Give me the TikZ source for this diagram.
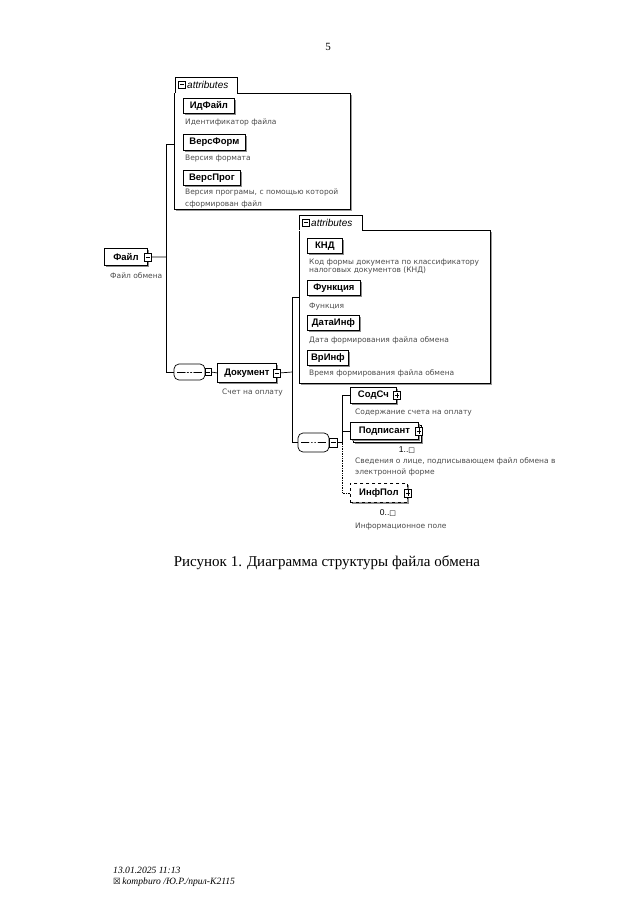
\documentclass[tikz,border=0pt]{standalone}
\usepackage{fontspec}
\setmainfont{Liberation Serif}
\setsansfont{Liberation Sans}
\newfontfamily\symfont{DejaVu Sans}
\newfontfamily\descfont{DejaVu Sans}
\usetikzlibrary{shapes.misc,shadows}
\definecolor{desccol}{gray}{0.3}
\begin{document}
\begin{tikzpicture}[x=1pt,y=-1pt,
  elem/.style={draw=black, line width=0.8pt, fill=white, anchor=north west, inner sep=0pt,
    font=\sffamily\bfseries\fontsize{9.5}{11}\selectfont,
    drop shadow={shadow xshift=1.8pt, shadow yshift=-1.8pt, fill=black!45, opacity=1}},
  box/.style={draw=black, line width=0.6pt, fill=white, anchor=north west, inner sep=0pt,
    drop shadow={shadow xshift=1.2pt, shadow yshift=-1.2pt, fill=black!40, opacity=1}},
  desc/.style={font=\descfont\fontsize{7.5}{8}\selectfont, text=desccol, anchor=west, inner sep=0pt,
    text height=5pt, text depth=1.5pt},
  minusbox/.style={draw=black, line width=0.6pt, fill=white, inner sep=0pt,
    minimum width=7pt, minimum height=8pt,
    path picture={\draw[line width=0.5pt] ([xshift=1.4pt]path picture bounding box.west) -- ([xshift=-1.4pt]path picture bounding box.east);}},
  plusbox/.style={minusbox,
    path picture={\draw[line width=0.5pt] ([xshift=1.4pt]path picture bounding box.west) -- ([xshift=-1.4pt]path picture bounding box.east)
      ([yshift=-1.4pt]path picture bounding box.north) -- ([yshift=1.4pt]path picture bounding box.south);}},
  seqshape/.style={rectangle, rounded corners=5pt, draw=black, line width=0.7pt, fill=white,
    inner sep=0pt, minimum width=31pt,
    path picture={\draw[line width=0.6pt] ([xshift=3pt]path picture bounding box.west) -- ([xshift=-3pt]path picture bounding box.east);
      \fill (path picture bounding box.center) circle (1.1pt) ++(-3.2pt,0) circle (1.1pt) ++(6.4pt,0) circle (1.1pt);}},
  tabtext/.style={font=\sffamily\itshape\fontsize{10}{11}\selectfont, anchor=west, inner sep=0pt},
  conn/.style={line width=0.7pt},
  mult/.style={font=\sffamily\fontsize{8.5}{9}\selectfont, inner sep=0pt}
]
\useasboundingbox (0,0) rectangle (640,906);
\fill[white] (0,0) rectangle (640,906);

% page number
\node[font=\fontsize{11}{12}\selectfont, inner sep=0pt] (pagenum) at (328,47) {5};

% ---------- attributes box 1 ----------
\node[box, minimum width=176pt, minimum height=116pt] (attr1) at (174,93) {};
\fill[white] (175.3,77.3) rectangle (236.7,93.5);
\draw[line width=0.6pt] (175,93) -- (175,77) -- (237,77) -- (237,93);
\node[minusbox, minimum width=6.5pt, minimum height=7pt] (attr1m) at (182,84.5) {};
\node[tabtext] (attr1t) at (187,85) {attributes};

\node[elem, minimum width=51pt, minimum height=15pt] (idfayl) at (183,98) {ИдФайл};
\node[desc] (idfayld) at (185,123) {Идентификатор файла};
\node[elem, minimum width=62pt, minimum height=16pt] (versform) at (183,134) {ВерсФорм};
\node[desc] (versformd) at (185,159) {Версия формата};
\node[elem, minimum width=57pt, minimum height=15pt] (versprog) at (183,170) {ВерсПрог};
\node[desc] (versprogd1) at (185,193) {Версия програмы, с помощью которой};
\node[desc] (versprogd2) at (185,205) {сформирован файл};

% ---------- root ----------
\node[elem, minimum width=43pt, minimum height=17pt] (fayl) at (104,248) {Файл\hspace{4pt}};
\node[minusbox] (faylm) at (fayl.east) {};
\node[desc] (fayld) at (110,277) {Файл обмена};

% ---------- sequence 1 + Документ ----------
\node[seqshape, minimum height=16pt] (seq1) at (189.5,372) {};
\node[minusbox, minimum width=6pt, minimum height=7pt] (seq1m) at (208,372) {};
\node[elem, minimum width=59pt, minimum height=19pt] (dokument) at (217,363) {Документ\hspace{4pt}};
\node[minusbox] (dokumentm) at (dokument.east) {};
\node[desc] (dokumentd) at (222,393) {Счет на оплату};

% ---------- attributes box 2 ----------
\node[box, minimum width=191pt, minimum height=153pt] (attr2) at (299,230) {};
\fill[white] (299.3,215.3) rectangle (361.7,230.5);
\draw[line width=0.6pt] (299,230) -- (299,215) -- (362,215) -- (362,230);
\node[minusbox, minimum width=6.5pt, minimum height=7pt] (attr2m) at (306,222.5) {};
\node[tabtext] (attr2t) at (311,223) {attributes};

\node[elem, minimum width=35pt, minimum height=15pt] (knd) at (307,238) {КНД};
\node[desc] (kndd1) at (309,263) {Код формы документа по классификатору};
\node[desc] (kndd2) at (309,271) {налоговых документов (КНД)};
\node[elem, minimum width=53pt, minimum height=15pt] (funk) at (307,280) {Функция};
\node[desc] (funkd) at (309,307) {Функция};
\node[elem, minimum width=52pt, minimum height=15pt] (datainf) at (307,315) {ДатаИнф};
\node[desc] (datainfd) at (309,341) {Дата формирования файла обмена};
\node[elem, minimum width=41pt, minimum height=15pt] (vrinf) at (307,350) {ВрИнф};
\node[desc] (vrinfd) at (309,374) {Время формирования файла обмена};

% ---------- sequence 2 + children ----------
\node[seqshape, minimum height=19pt] (seq2) at (313.5,442.5) {};
\node[minusbox, minimum width=8pt, minimum height=9pt] (seq2m) at (333.5,442.5) {};

\node[elem, minimum width=46pt, minimum height=16pt] (sodsch) at (350,387) {СодСч\hspace{5pt}};
\node[plusbox] (sodschm) at (sodsch.east) {};
\node[desc] (sodschd) at (355,413) {Содержание счета на оплату};

\node[elem, minimum width=68pt, minimum height=17pt] (podpback) at (353,425) {};
\node[elem, minimum width=68pt, minimum height=17pt] (podp) at (350,422) {Подписант\hspace{5pt}};
\node[plusbox] (podpm) at (podp.east) {};
\node[mult] (podpmult) at (407,450) {1..{\symfont\fontsize{7}{8}\selectfont □}};
\node[desc] (podpd1) at (355,462) {Сведения о лице, подписывающем файл обмена в};
\node[desc] (podpd2) at (355,473) {электронной форме};

\node[elem, dashed, minimum width=57pt, minimum height=19pt] (infpol) at (350,483) {ИнфПол\hspace{5pt}};
\node[plusbox] (infpolm) at (infpol.east) {};
\node[mult] (infpolmult) at (388,513) {0..{\symfont\fontsize{7}{8}\selectfont □}};
\node[desc] (infpold) at (355,527) {Информационное поле};

% ---------- connectors ----------
\coordinate (busA) at (166,257);
\coordinate (attr1in) at (174,144);
\coordinate (busB) at (292,372);
\coordinate (attr2in) at (299,297);
\coordinate (busC) at (342,442.5);

\draw[conn] (faylm.east) -- (busA);
\draw[conn] (attr1in) -- (busA |- attr1in) -- (busA |- seq1.west) -- (seq1.west);
\draw[conn] (seq1.east) -- (seq1m.west);
\draw[conn] (seq1m.east) -- (dokument.west);
\draw[conn] (dokumentm.east) -- (busB);
\draw[conn] (attr2in) -- (busB |- attr2in) -- (busB |- seq2.west) -- (seq2.west);
\draw[conn] (seq2m.east) -- (busC);
\draw[conn] (sodsch.west) -- (busC |- sodsch.west) -- (busC);
\draw[conn] (podp.west) -- (busC |- podp.west);
\draw[conn, densely dotted] (busC) -- (busC |- infpol.west) -- (infpol.west);

% ---------- caption and footer ----------
\node[font=\fontsize{15}{17}\selectfont, inner sep=0pt] (caption) at (327,563) {Рисунок 1. Диаграмма структуры файла обмена};
\node[font=\itshape\fontsize{9.6}{10}\selectfont, anchor=west, inner sep=0pt] (foot1) at (113,870) {13.01.2025 11:13};
\node[font=\itshape\fontsize{9.6}{10}\selectfont, anchor=west, inner sep=0pt] (foot2) at (113,882) {{\symfont\fontsize{8.5}{9}\selectfont ☒}\,kompburo /Ю.Р./прил-К2115};
\end{tikzpicture}
\end{document}
